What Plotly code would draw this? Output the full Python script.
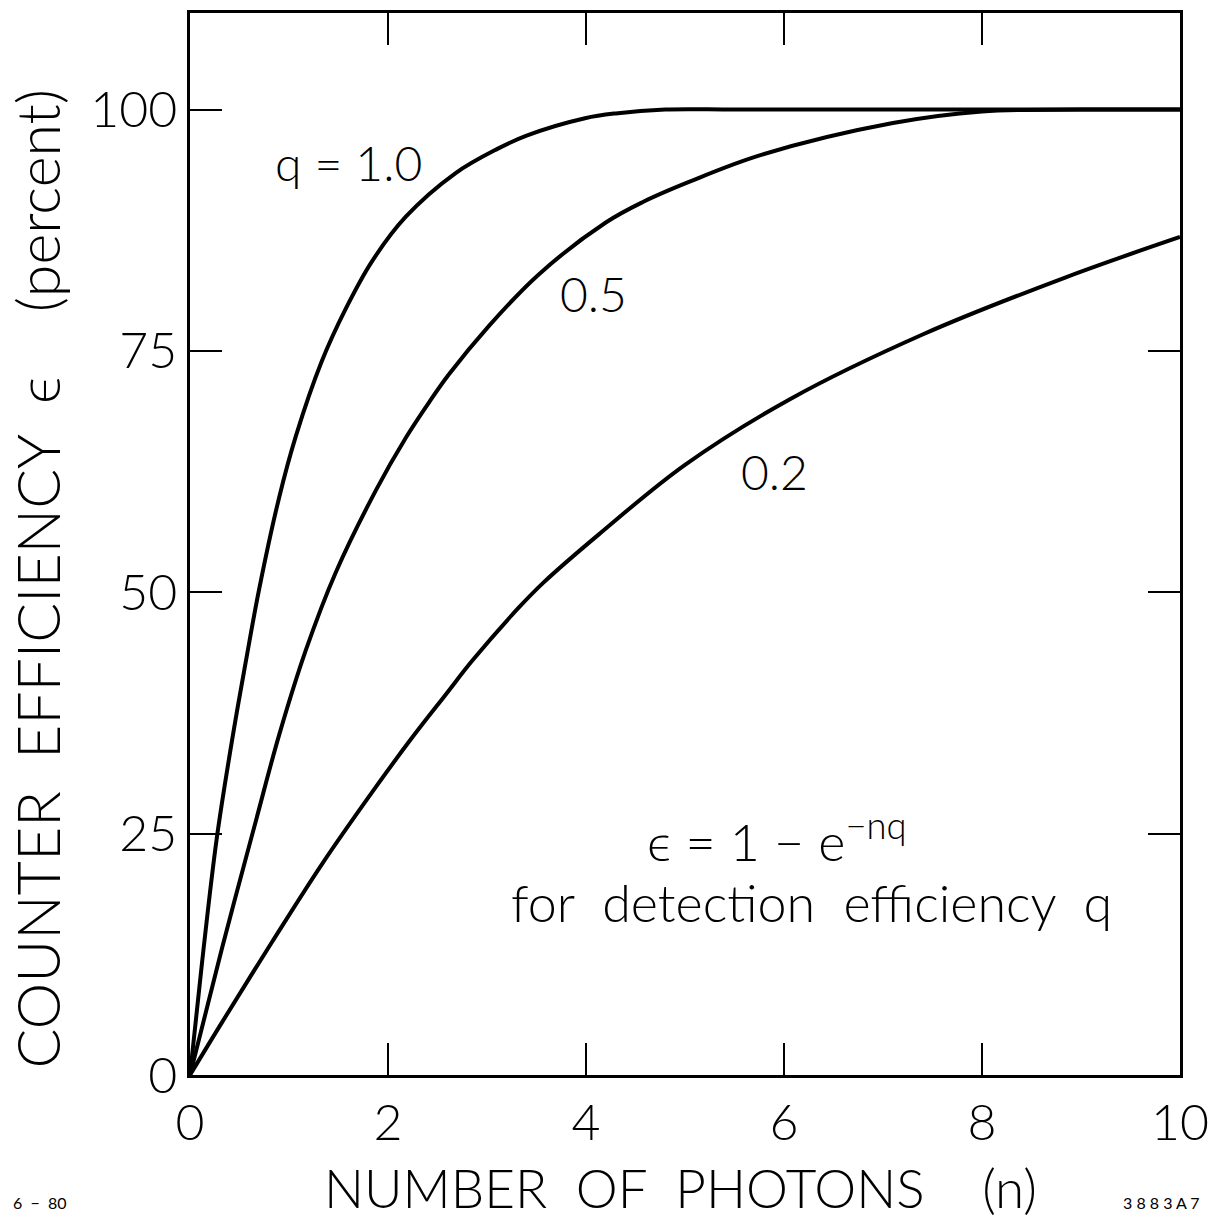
import plotly.graph_objects as go

# ---- data ----
n_q10 = [0, 0.12, 0.27, 0.44, 0.56, 0.70, 0.90, 1.07, 1.33, 1.57, 1.84, 2.18, 2.68, 3.10, 3.40, 3.99, 4.3, 4.8, 5.5, 7, 10]
eff_q10 = [0, 11.5, 24.5, 35.6, 42.6, 50.4, 59.8, 66.2, 73.9, 79.3, 84.3, 88.9, 93.4, 95.9, 97.3, 99.1, 99.6, 100, 100, 100, 100]

n_q05 = [0, 0.32, 0.67, 0.90, 1.17, 1.47, 1.88, 2.18, 2.41, 2.61, 3.02, 3.52, 4.2, 4.57, 5.04, 5.77, 7.1, 8.0, 9, 10]
eff_q05 = [0, 13.0, 26.5, 35.2, 44.0, 52.0, 60.6, 66.0, 69.6, 72.5, 77.6, 82.9, 88.3, 90.4, 92.5, 95.3, 98.6, 99.8, 100, 100]

n_q02 = [0, 0.32, 0.83, 1.33, 1.84, 2.24, 2.59, 2.85, 3.32, 3.57, 4.13, 5.0, 6.06, 7.4, 8.84, 10]
eff_q02 = [0, 5.4, 13.8, 21.8, 29.3, 34.9, 39.5, 42.9, 48.4, 51.0, 56.0, 63.2, 70.0, 76.7, 82.6, 86.8]

x_ticks = [0, 2, 4, 6, 8, 10]
x_ticklabels = ["0", "2", "4", "6", "8", "10"]
y_ticks = [0, 25, 50, 75, 100]
y_ticklabels = ["0", "25", "50", "75", "100"]

FONT = "Lato"
WEIGHT = 300

fig = go.Figure()
for xs, ys in [(n_q10, eff_q10), (n_q05, eff_q05), (n_q02, eff_q02)]:
    fig.add_trace(go.Scatter(x=xs, y=ys, mode="lines",
                             line=dict(color="black", width=4, shape="spline", smoothing=1.0),
                             showlegend=False, hoverinfo="skip"))

axis_common = dict(showgrid=False, zeroline=False, showline=True, linecolor="black",
                   linewidth=2.5, mirror="ticks", ticks="inside", ticklen=32,
                   tickwidth=1.5, tickcolor="black",
                   tickfont=dict(family=FONT, size=50, color="black", weight=WEIGHT))

fig.update_xaxes(range=[0, 10], tickvals=x_ticks, ticktext=x_ticklabels,
                 ticklabelstandoff=2, **axis_common)
fig.update_yaxes(range=[0, 110], tickvals=y_ticks, ticktext=y_ticklabels,
                 ticklabelstandoff=0, **axis_common)

ann_font = dict(family=FONT, size=48, color="black", weight=WEIGHT)
big_font = dict(family=FONT, size=52, color="black", weight=WEIGHT)
annotations = [
    dict(x=1.6, y=94.5, text="q = 1.0", font=ann_font),
    dict(x=4.08, y=80.9, text="0.5", font=ann_font),
    dict(x=5.9, y=62.5, text="0.2", font=ann_font),
    dict(x=4.6, y=20.8, text="ϵ = 1 − e<sup>−nq</sup>", font=big_font,
         xanchor="left", yanchor="bottom"),
    dict(x=6.28, y=17.9, text="for  detection  efficiency  q", font=big_font),
]
for a in annotations:
    a.setdefault("xanchor", "center")
    a.setdefault("yanchor", "middle")
    fig.add_annotation(showarrow=False, xref="x", yref="y", **a)

fig.add_annotation(x=0.495, y=-0.106, xref="paper", yref="paper",
                   text="NUMBER  OF  PHOTONS    (n)", showarrow=False,
                   font=dict(family=FONT, size=53, color="black", weight=WEIGHT),
                   xanchor="center", yanchor="middle")
fig.add_annotation(x=-0.155, y=0.467, xref="paper", yref="paper",
                   text="COUNTER  EFFICIENCY  ϵ    (percent)", textangle=-90,
                   showarrow=False,
                   font=dict(family=FONT, size=59, color="black", weight=WEIGHT),
                   xanchor="center", yanchor="middle")

note_font = dict(family=FONT, size=16, color="black")
fig.add_annotation(x=-0.181, y=-0.12, xref="paper", yref="paper", text="6  −  80",
                   showarrow=False, font=note_font, xanchor="left", yanchor="middle")
fig.add_annotation(x=1.022, y=-0.12, xref="paper", yref="paper", text="3 8 8 3 A 7",
                   showarrow=False, font=note_font, xanchor="right", yanchor="middle")

fig.update_layout(
    width=1219, height=1220,
    margin=dict(l=190, r=37, t=10, b=145),
    paper_bgcolor="white", plot_bgcolor="white",
)

fig.write_html("out.html")
